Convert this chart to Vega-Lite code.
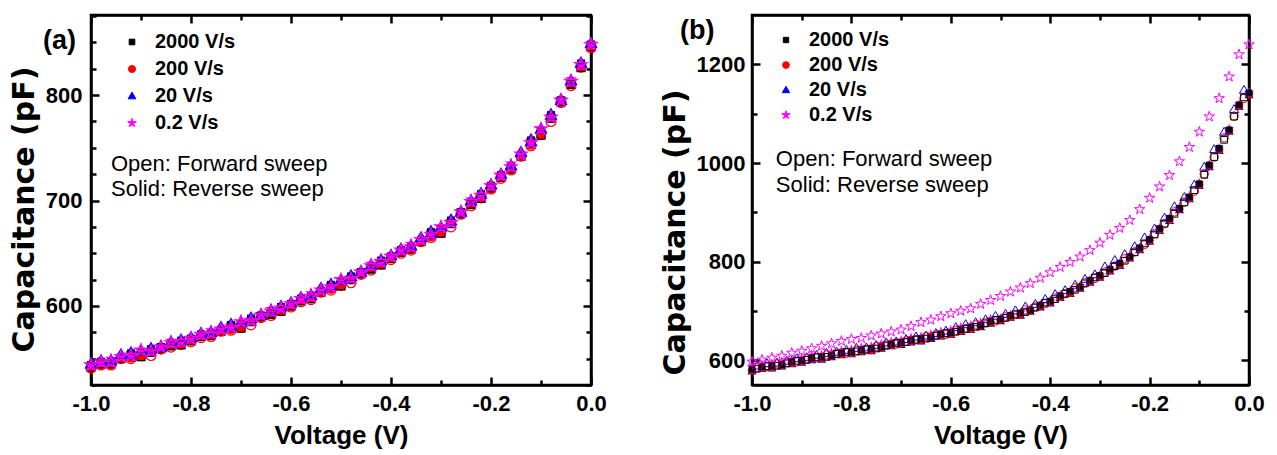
{
"$schema":"https://vega.github.io/schema/vega-lite/v6.json",
"background":"white",
"padding":{"left":8,"top":12,"right":10,"bottom":4},
"spacing":50,
"datasets":{
"aF":[
{"s":"2000","v":-1,"c":542},{"s":"2000","v":-0.98,"c":545},{"s":"2000","v":-0.96,"c":545},{"s":"2000","v":-0.94,"c":550},{"s":"2000","v":-0.92,"c":553},{"s":"2000","v":-0.9,"c":552},{"s":"2000","v":-0.88,"c":556},{"s":"2000","v":-0.86,"c":560},{"s":"2000","v":-0.84,"c":562},{"s":"2000","v":-0.82,"c":563},{"s":"2000","v":-0.8,"c":567},{"s":"2000","v":-0.78,"c":571},{"s":"2000","v":-0.76,"c":572},{"s":"2000","v":-0.74,"c":576},{"s":"2000","v":-0.72,"c":580},{"s":"2000","v":-0.7,"c":579},{"s":"2000","v":-0.68,"c":585},{"s":"2000","v":-0.66,"c":590},{"s":"2000","v":-0.64,"c":592},{"s":"2000","v":-0.62,"c":595},{"s":"2000","v":-0.6,"c":600},{"s":"2000","v":-0.58,"c":605},{"s":"2000","v":-0.56,"c":607},{"s":"2000","v":-0.54,"c":613},{"s":"2000","v":-0.52,"c":618},{"s":"2000","v":-0.5,"c":619},{"s":"2000","v":-0.48,"c":625},{"s":"2000","v":-0.46,"c":631},{"s":"2000","v":-0.44,"c":635},{"s":"2000","v":-0.42,"c":639},{"s":"2000","v":-0.4,"c":645},{"s":"2000","v":-0.38,"c":651},{"s":"2000","v":-0.36,"c":654},{"s":"2000","v":-0.34,"c":661},{"s":"2000","v":-0.32,"c":668},{"s":"2000","v":-0.3,"c":669},{"s":"2000","v":-0.28,"c":678},{"s":"2000","v":-0.26,"c":688},{"s":"2000","v":-0.24,"c":696},{"s":"2000","v":-0.22,"c":702},{"s":"2000","v":-0.2,"c":712},{"s":"2000","v":-0.18,"c":722},{"s":"2000","v":-0.16,"c":730},{"s":"2000","v":-0.14,"c":742},{"s":"2000","v":-0.12,"c":755},{"s":"2000","v":-0.1,"c":762},{"s":"2000","v":-0.08,"c":778},{"s":"2000","v":-0.06,"c":794},{"s":"2000","v":-0.04,"c":810},{"s":"2000","v":-0.02,"c":826},{"s":"2000","v":0,"c":846},
{"s":"200","v":-1,"c":541},{"s":"200","v":-0.98,"c":544},{"s":"200","v":-0.96,"c":544},{"s":"200","v":-0.94,"c":550},{"s":"200","v":-0.92,"c":550},{"s":"200","v":-0.9,"c":554},{"s":"200","v":-0.88,"c":553},{"s":"200","v":-0.86,"c":559},{"s":"200","v":-0.84,"c":561},{"s":"200","v":-0.82,"c":565},{"s":"200","v":-0.8,"c":566},{"s":"200","v":-0.78,"c":570},{"s":"200","v":-0.76,"c":571},{"s":"200","v":-0.74,"c":576},{"s":"200","v":-0.72,"c":577},{"s":"200","v":-0.7,"c":581},{"s":"200","v":-0.68,"c":582},{"s":"200","v":-0.66,"c":589},{"s":"200","v":-0.64,"c":591},{"s":"200","v":-0.62,"c":597},{"s":"200","v":-0.6,"c":599},{"s":"200","v":-0.58,"c":604},{"s":"200","v":-0.56,"c":606},{"s":"200","v":-0.54,"c":613},{"s":"200","v":-0.52,"c":615},{"s":"200","v":-0.5,"c":621},{"s":"200","v":-0.48,"c":622},{"s":"200","v":-0.46,"c":630},{"s":"200","v":-0.44,"c":634},{"s":"200","v":-0.42,"c":641},{"s":"200","v":-0.4,"c":644},{"s":"200","v":-0.38,"c":650},{"s":"200","v":-0.36,"c":653},{"s":"200","v":-0.34,"c":661},{"s":"200","v":-0.32,"c":665},{"s":"200","v":-0.3,"c":671},{"s":"200","v":-0.28,"c":675},{"s":"200","v":-0.26,"c":687},{"s":"200","v":-0.24,"c":695},{"s":"200","v":-0.22,"c":704},{"s":"200","v":-0.2,"c":711},{"s":"200","v":-0.18,"c":721},{"s":"200","v":-0.16,"c":729},{"s":"200","v":-0.14,"c":742},{"s":"200","v":-0.12,"c":752},{"s":"200","v":-0.1,"c":764},{"s":"200","v":-0.08,"c":775},{"s":"200","v":-0.06,"c":793},{"s":"200","v":-0.04,"c":809},{"s":"200","v":-0.02,"c":828},{"s":"200","v":0,"c":845},
{"s":"20","v":-1,"c":545},{"s":"20","v":-0.98,"c":548},{"s":"20","v":-0.96,"c":548},{"s":"20","v":-0.94,"c":554},{"s":"20","v":-0.92,"c":554},{"s":"20","v":-0.9,"c":558},{"s":"20","v":-0.88,"c":559},{"s":"20","v":-0.86,"c":561},{"s":"20","v":-0.84,"c":566},{"s":"20","v":-0.82,"c":567},{"s":"20","v":-0.8,"c":570},{"s":"20","v":-0.78,"c":574},{"s":"20","v":-0.76,"c":575},{"s":"20","v":-0.74,"c":580},{"s":"20","v":-0.72,"c":581},{"s":"20","v":-0.7,"c":585},{"s":"20","v":-0.68,"c":588},{"s":"20","v":-0.66,"c":591},{"s":"20","v":-0.64,"c":596},{"s":"20","v":-0.62,"c":599},{"s":"20","v":-0.6,"c":603},{"s":"20","v":-0.58,"c":608},{"s":"20","v":-0.56,"c":610},{"s":"20","v":-0.54,"c":617},{"s":"20","v":-0.52,"c":619},{"s":"20","v":-0.5,"c":625},{"s":"20","v":-0.48,"c":628},{"s":"20","v":-0.46,"c":632},{"s":"20","v":-0.44,"c":639},{"s":"20","v":-0.42,"c":643},{"s":"20","v":-0.4,"c":648},{"s":"20","v":-0.38,"c":654},{"s":"20","v":-0.36,"c":657},{"s":"20","v":-0.34,"c":665},{"s":"20","v":-0.32,"c":669},{"s":"20","v":-0.3,"c":675},{"s":"20","v":-0.28,"c":681},{"s":"20","v":-0.26,"c":689},{"s":"20","v":-0.24,"c":700},{"s":"20","v":-0.22,"c":706},{"s":"20","v":-0.2,"c":715},{"s":"20","v":-0.18,"c":725},{"s":"20","v":-0.16,"c":733},{"s":"20","v":-0.14,"c":746},{"s":"20","v":-0.12,"c":756},{"s":"20","v":-0.1,"c":768},{"s":"20","v":-0.08,"c":781},{"s":"20","v":-0.06,"c":795},{"s":"20","v":-0.04,"c":814},{"s":"20","v":-0.02,"c":830},{"s":"20","v":0,"c":849},
{"s":"0.2","v":-1,"c":544},{"s":"0.2","v":-0.98,"c":547},{"s":"0.2","v":-0.96,"c":547},{"s":"0.2","v":-0.94,"c":552},{"s":"0.2","v":-0.92,"c":553},{"s":"0.2","v":-0.9,"c":558},{"s":"0.2","v":-0.88,"c":557},{"s":"0.2","v":-0.86,"c":561},{"s":"0.2","v":-0.84,"c":565},{"s":"0.2","v":-0.82,"c":566},{"s":"0.2","v":-0.8,"c":569},{"s":"0.2","v":-0.78,"c":573},{"s":"0.2","v":-0.76,"c":574},{"s":"0.2","v":-0.74,"c":578},{"s":"0.2","v":-0.72,"c":580},{"s":"0.2","v":-0.7,"c":585},{"s":"0.2","v":-0.68,"c":586},{"s":"0.2","v":-0.66,"c":591},{"s":"0.2","v":-0.64,"c":595},{"s":"0.2","v":-0.62,"c":598},{"s":"0.2","v":-0.6,"c":602},{"s":"0.2","v":-0.58,"c":607},{"s":"0.2","v":-0.56,"c":609},{"s":"0.2","v":-0.54,"c":615},{"s":"0.2","v":-0.52,"c":618},{"s":"0.2","v":-0.5,"c":625},{"s":"0.2","v":-0.48,"c":626},{"s":"0.2","v":-0.46,"c":632},{"s":"0.2","v":-0.44,"c":638},{"s":"0.2","v":-0.42,"c":642},{"s":"0.2","v":-0.4,"c":647},{"s":"0.2","v":-0.38,"c":653},{"s":"0.2","v":-0.36,"c":656},{"s":"0.2","v":-0.34,"c":663},{"s":"0.2","v":-0.32,"c":668},{"s":"0.2","v":-0.3,"c":675},{"s":"0.2","v":-0.28,"c":679},{"s":"0.2","v":-0.26,"c":689},{"s":"0.2","v":-0.24,"c":699},{"s":"0.2","v":-0.22,"c":705},{"s":"0.2","v":-0.2,"c":714},{"s":"0.2","v":-0.18,"c":724},{"s":"0.2","v":-0.16,"c":732},{"s":"0.2","v":-0.14,"c":744},{"s":"0.2","v":-0.12,"c":755},{"s":"0.2","v":-0.1,"c":768},{"s":"0.2","v":-0.08,"c":779},{"s":"0.2","v":-0.06,"c":795},{"s":"0.2","v":-0.04,"c":813},{"s":"0.2","v":-0.02,"c":829},{"s":"0.2","v":0,"c":848}
],
"aR":[
{"s":"2000","v":-1,"c":544},{"s":"2000","v":-0.98,"c":547},{"s":"2000","v":-0.96,"c":547},{"s":"2000","v":-0.94,"c":551},{"s":"2000","v":-0.92,"c":555},{"s":"2000","v":-0.9,"c":555},{"s":"2000","v":-0.88,"c":559},{"s":"2000","v":-0.86,"c":561},{"s":"2000","v":-0.84,"c":562},{"s":"2000","v":-0.82,"c":567},{"s":"2000","v":-0.8,"c":569},{"s":"2000","v":-0.78,"c":573},{"s":"2000","v":-0.76,"c":574},{"s":"2000","v":-0.74,"c":577},{"s":"2000","v":-0.72,"c":582},{"s":"2000","v":-0.7,"c":582},{"s":"2000","v":-0.68,"c":588},{"s":"2000","v":-0.66,"c":591},{"s":"2000","v":-0.64,"c":592},{"s":"2000","v":-0.62,"c":599},{"s":"2000","v":-0.6,"c":602},{"s":"2000","v":-0.58,"c":607},{"s":"2000","v":-0.56,"c":609},{"s":"2000","v":-0.54,"c":614},{"s":"2000","v":-0.52,"c":620},{"s":"2000","v":-0.5,"c":622},{"s":"2000","v":-0.48,"c":628},{"s":"2000","v":-0.46,"c":632},{"s":"2000","v":-0.44,"c":635},{"s":"2000","v":-0.42,"c":643},{"s":"2000","v":-0.4,"c":647},{"s":"2000","v":-0.38,"c":653},{"s":"2000","v":-0.36,"c":656},{"s":"2000","v":-0.34,"c":662},{"s":"2000","v":-0.32,"c":670},{"s":"2000","v":-0.3,"c":672},{"s":"2000","v":-0.28,"c":681},{"s":"2000","v":-0.26,"c":689},{"s":"2000","v":-0.24,"c":696},{"s":"2000","v":-0.22,"c":706},{"s":"2000","v":-0.2,"c":714},{"s":"2000","v":-0.18,"c":724},{"s":"2000","v":-0.16,"c":732},{"s":"2000","v":-0.14,"c":743},{"s":"2000","v":-0.12,"c":757},{"s":"2000","v":-0.1,"c":765},{"s":"2000","v":-0.08,"c":781},{"s":"2000","v":-0.06,"c":795},{"s":"2000","v":-0.04,"c":810},{"s":"2000","v":-0.02,"c":830},{"s":"2000","v":0,"c":848},
{"s":"200","v":-1,"c":542},{"s":"200","v":-0.98,"c":545},{"s":"200","v":-0.96,"c":545},{"s":"200","v":-0.94,"c":551},{"s":"200","v":-0.92,"c":551},{"s":"200","v":-0.9,"c":552},{"s":"200","v":-0.88,"c":557},{"s":"200","v":-0.86,"c":559},{"s":"200","v":-0.84,"c":564},{"s":"200","v":-0.82,"c":563},{"s":"200","v":-0.8,"c":567},{"s":"200","v":-0.78,"c":571},{"s":"200","v":-0.76,"c":572},{"s":"200","v":-0.74,"c":577},{"s":"200","v":-0.72,"c":578},{"s":"200","v":-0.7,"c":579},{"s":"200","v":-0.68,"c":586},{"s":"200","v":-0.66,"c":589},{"s":"200","v":-0.64,"c":594},{"s":"200","v":-0.62,"c":595},{"s":"200","v":-0.6,"c":600},{"s":"200","v":-0.58,"c":605},{"s":"200","v":-0.56,"c":607},{"s":"200","v":-0.54,"c":614},{"s":"200","v":-0.52,"c":616},{"s":"200","v":-0.5,"c":619},{"s":"200","v":-0.48,"c":626},{"s":"200","v":-0.46,"c":630},{"s":"200","v":-0.44,"c":637},{"s":"200","v":-0.42,"c":639},{"s":"200","v":-0.4,"c":645},{"s":"200","v":-0.38,"c":651},{"s":"200","v":-0.36,"c":654},{"s":"200","v":-0.34,"c":662},{"s":"200","v":-0.32,"c":666},{"s":"200","v":-0.3,"c":669},{"s":"200","v":-0.28,"c":679},{"s":"200","v":-0.26,"c":687},{"s":"200","v":-0.24,"c":698},{"s":"200","v":-0.22,"c":702},{"s":"200","v":-0.2,"c":712},{"s":"200","v":-0.18,"c":722},{"s":"200","v":-0.16,"c":730},{"s":"200","v":-0.14,"c":743},{"s":"200","v":-0.12,"c":753},{"s":"200","v":-0.1,"c":762},{"s":"200","v":-0.08,"c":779},{"s":"200","v":-0.06,"c":793},{"s":"200","v":-0.04,"c":812},{"s":"200","v":-0.02,"c":826},{"s":"200","v":0,"c":846},
{"s":"20","v":-1,"c":546},{"s":"20","v":-0.98,"c":549},{"s":"20","v":-0.96,"c":549},{"s":"20","v":-0.94,"c":553},{"s":"20","v":-0.92,"c":557},{"s":"20","v":-0.9,"c":557},{"s":"20","v":-0.88,"c":561},{"s":"20","v":-0.86,"c":563},{"s":"20","v":-0.84,"c":565},{"s":"20","v":-0.82,"c":569},{"s":"20","v":-0.8,"c":571},{"s":"20","v":-0.78,"c":575},{"s":"20","v":-0.76,"c":576},{"s":"20","v":-0.74,"c":579},{"s":"20","v":-0.72,"c":584},{"s":"20","v":-0.7,"c":584},{"s":"20","v":-0.68,"c":590},{"s":"20","v":-0.66,"c":593},{"s":"20","v":-0.64,"c":595},{"s":"20","v":-0.62,"c":601},{"s":"20","v":-0.6,"c":604},{"s":"20","v":-0.58,"c":609},{"s":"20","v":-0.56,"c":611},{"s":"20","v":-0.54,"c":616},{"s":"20","v":-0.52,"c":622},{"s":"20","v":-0.5,"c":624},{"s":"20","v":-0.48,"c":630},{"s":"20","v":-0.46,"c":634},{"s":"20","v":-0.44,"c":638},{"s":"20","v":-0.42,"c":645},{"s":"20","v":-0.4,"c":649},{"s":"20","v":-0.38,"c":655},{"s":"20","v":-0.36,"c":658},{"s":"20","v":-0.34,"c":664},{"s":"20","v":-0.32,"c":672},{"s":"20","v":-0.3,"c":674},{"s":"20","v":-0.28,"c":683},{"s":"20","v":-0.26,"c":691},{"s":"20","v":-0.24,"c":699},{"s":"20","v":-0.22,"c":708},{"s":"20","v":-0.2,"c":716},{"s":"20","v":-0.18,"c":726},{"s":"20","v":-0.16,"c":734},{"s":"20","v":-0.14,"c":745},{"s":"20","v":-0.12,"c":759},{"s":"20","v":-0.1,"c":767},{"s":"20","v":-0.08,"c":783},{"s":"20","v":-0.06,"c":797},{"s":"20","v":-0.04,"c":813},{"s":"20","v":-0.02,"c":832},{"s":"20","v":0,"c":850},
{"s":"0.2","v":-1,"c":545},{"s":"0.2","v":-0.98,"c":546},{"s":"0.2","v":-0.96,"c":550},{"s":"0.2","v":-0.94,"c":552},{"s":"0.2","v":-0.92,"c":552},{"s":"0.2","v":-0.9,"c":558},{"s":"0.2","v":-0.88,"c":558},{"s":"0.2","v":-0.86,"c":562},{"s":"0.2","v":-0.84,"c":567},{"s":"0.2","v":-0.82,"c":566},{"s":"0.2","v":-0.8,"c":570},{"s":"0.2","v":-0.78,"c":572},{"s":"0.2","v":-0.76,"c":577},{"s":"0.2","v":-0.74,"c":578},{"s":"0.2","v":-0.72,"c":579},{"s":"0.2","v":-0.7,"c":585},{"s":"0.2","v":-0.68,"c":587},{"s":"0.2","v":-0.66,"c":592},{"s":"0.2","v":-0.64,"c":597},{"s":"0.2","v":-0.62,"c":598},{"s":"0.2","v":-0.6,"c":603},{"s":"0.2","v":-0.58,"c":606},{"s":"0.2","v":-0.56,"c":612},{"s":"0.2","v":-0.54,"c":615},{"s":"0.2","v":-0.52,"c":617},{"s":"0.2","v":-0.5,"c":625},{"s":"0.2","v":-0.48,"c":627},{"s":"0.2","v":-0.46,"c":633},{"s":"0.2","v":-0.44,"c":640},{"s":"0.2","v":-0.42,"c":642},{"s":"0.2","v":-0.4,"c":648},{"s":"0.2","v":-0.38,"c":652},{"s":"0.2","v":-0.36,"c":659},{"s":"0.2","v":-0.34,"c":663},{"s":"0.2","v":-0.32,"c":667},{"s":"0.2","v":-0.3,"c":675},{"s":"0.2","v":-0.28,"c":680},{"s":"0.2","v":-0.26,"c":690},{"s":"0.2","v":-0.24,"c":701},{"s":"0.2","v":-0.22,"c":705},{"s":"0.2","v":-0.2,"c":715},{"s":"0.2","v":-0.18,"c":723},{"s":"0.2","v":-0.16,"c":735},{"s":"0.2","v":-0.14,"c":744},{"s":"0.2","v":-0.12,"c":754},{"s":"0.2","v":-0.1,"c":768},{"s":"0.2","v":-0.08,"c":780},{"s":"0.2","v":-0.06,"c":796},{"s":"0.2","v":-0.04,"c":815},{"s":"0.2","v":-0.02,"c":829},{"s":"0.2","v":0,"c":849}
],
"bF":[
{"s":"20","v":-0.99,"c":589},{"s":"20","v":-0.97,"c":594},{"s":"20","v":-0.95,"c":595},{"s":"20","v":-0.93,"c":599},{"s":"20","v":-0.91,"c":604},{"s":"20","v":-0.89,"c":606},{"s":"20","v":-0.87,"c":611},{"s":"20","v":-0.85,"c":615},{"s":"20","v":-0.83,"c":617},{"s":"20","v":-0.81,"c":621},{"s":"20","v":-0.79,"c":625},{"s":"20","v":-0.77,"c":626},{"s":"20","v":-0.75,"c":631},{"s":"20","v":-0.73,"c":636},{"s":"20","v":-0.71,"c":638},{"s":"20","v":-0.69,"c":643},{"s":"20","v":-0.67,"c":648},{"s":"20","v":-0.65,"c":650},{"s":"20","v":-0.63,"c":655},{"s":"20","v":-0.61,"c":660},{"s":"20","v":-0.59,"c":667},{"s":"20","v":-0.57,"c":673},{"s":"20","v":-0.55,"c":677},{"s":"20","v":-0.53,"c":683},{"s":"20","v":-0.51,"c":690},{"s":"20","v":-0.49,"c":694},{"s":"20","v":-0.47,"c":701},{"s":"20","v":-0.45,"c":709},{"s":"20","v":-0.43,"c":714},{"s":"20","v":-0.41,"c":724},{"s":"20","v":-0.39,"c":734},{"s":"20","v":-0.37,"c":742},{"s":"20","v":-0.35,"c":753},{"s":"20","v":-0.33,"c":765},{"s":"20","v":-0.31,"c":774},{"s":"20","v":-0.29,"c":790},{"s":"20","v":-0.27,"c":803},{"s":"20","v":-0.25,"c":815},{"s":"20","v":-0.23,"c":831},{"s":"20","v":-0.21,"c":849},{"s":"20","v":-0.19,"c":867},{"s":"20","v":-0.17,"c":889},{"s":"20","v":-0.15,"c":912},{"s":"20","v":-0.13,"c":931},{"s":"20","v":-0.11,"c":956},{"s":"20","v":-0.09,"c":992},{"s":"20","v":-0.07,"c":1028},{"s":"20","v":-0.05,"c":1063},{"s":"20","v":-0.03,"c":1109},{"s":"20","v":-0.01,"c":1148},
{"s":"200","v":-0.99,"c":585},{"s":"200","v":-0.97,"c":588},{"s":"200","v":-0.95,"c":593},{"s":"200","v":-0.93,"c":595},{"s":"200","v":-0.91,"c":597},{"s":"200","v":-0.89,"c":603},{"s":"200","v":-0.87,"c":606},{"s":"200","v":-0.85,"c":611},{"s":"200","v":-0.83,"c":614},{"s":"200","v":-0.81,"c":615},{"s":"200","v":-0.79,"c":620},{"s":"200","v":-0.77,"c":622},{"s":"200","v":-0.75,"c":628},{"s":"200","v":-0.73,"c":631},{"s":"200","v":-0.71,"c":633},{"s":"200","v":-0.69,"c":639},{"s":"200","v":-0.67,"c":642},{"s":"200","v":-0.65,"c":648},{"s":"200","v":-0.63,"c":651},{"s":"200","v":-0.61,"c":653},{"s":"200","v":-0.59,"c":660},{"s":"200","v":-0.57,"c":664},{"s":"200","v":-0.55,"c":672},{"s":"200","v":-0.53,"c":676},{"s":"200","v":-0.51,"c":680},{"s":"200","v":-0.49,"c":688},{"s":"200","v":-0.47,"c":693},{"s":"200","v":-0.45,"c":702},{"s":"200","v":-0.43,"c":708},{"s":"200","v":-0.41,"c":715},{"s":"200","v":-0.39,"c":726},{"s":"200","v":-0.37,"c":735},{"s":"200","v":-0.35,"c":747},{"s":"200","v":-0.33,"c":757},{"s":"200","v":-0.31,"c":766},{"s":"200","v":-0.29,"c":779},{"s":"200","v":-0.27,"c":791},{"s":"200","v":-0.25,"c":806},{"s":"200","v":-0.23,"c":820},{"s":"200","v":-0.21,"c":835},{"s":"200","v":-0.19,"c":857},{"s":"200","v":-0.17,"c":877},{"s":"200","v":-0.15,"c":901},{"s":"200","v":-0.13,"c":921},{"s":"200","v":-0.11,"c":943},{"s":"200","v":-0.09,"c":978},{"s":"200","v":-0.07,"c":1012},{"s":"200","v":-0.05,"c":1051},{"s":"200","v":-0.03,"c":1095},{"s":"200","v":-0.01,"c":1131},
{"s":"2000","v":-0.99,"c":583},{"s":"2000","v":-0.97,"c":588},{"s":"2000","v":-0.95,"c":589},{"s":"2000","v":-0.93,"c":594},{"s":"2000","v":-0.91,"c":599},{"s":"2000","v":-0.89,"c":601},{"s":"2000","v":-0.87,"c":606},{"s":"2000","v":-0.85,"c":607},{"s":"2000","v":-0.83,"c":613},{"s":"2000","v":-0.81,"c":617},{"s":"2000","v":-0.79,"c":618},{"s":"2000","v":-0.77,"c":622},{"s":"2000","v":-0.75,"c":624},{"s":"2000","v":-0.73,"c":630},{"s":"2000","v":-0.71,"c":635},{"s":"2000","v":-0.69,"c":637},{"s":"2000","v":-0.67,"c":642},{"s":"2000","v":-0.65,"c":644},{"s":"2000","v":-0.63,"c":650},{"s":"2000","v":-0.61,"c":655},{"s":"2000","v":-0.59,"c":658},{"s":"2000","v":-0.57,"c":664},{"s":"2000","v":-0.55,"c":668},{"s":"2000","v":-0.53,"c":675},{"s":"2000","v":-0.51,"c":682},{"s":"2000","v":-0.49,"c":686},{"s":"2000","v":-0.47,"c":693},{"s":"2000","v":-0.45,"c":698},{"s":"2000","v":-0.43,"c":707},{"s":"2000","v":-0.41,"c":717},{"s":"2000","v":-0.39,"c":724},{"s":"2000","v":-0.37,"c":735},{"s":"2000","v":-0.35,"c":743},{"s":"2000","v":-0.33,"c":756},{"s":"2000","v":-0.31,"c":768},{"s":"2000","v":-0.29,"c":777},{"s":"2000","v":-0.27,"c":791},{"s":"2000","v":-0.25,"c":802},{"s":"2000","v":-0.23,"c":819},{"s":"2000","v":-0.21,"c":837},{"s":"2000","v":-0.19,"c":855},{"s":"2000","v":-0.17,"c":877},{"s":"2000","v":-0.15,"c":897},{"s":"2000","v":-0.13,"c":920},{"s":"2000","v":-0.11,"c":945},{"s":"2000","v":-0.09,"c":976},{"s":"2000","v":-0.07,"c":1012},{"s":"2000","v":-0.05,"c":1047},{"s":"2000","v":-0.03,"c":1094},{"s":"2000","v":-0.01,"c":1133},
{"s":"0.2","v":-1,"c":597},{"s":"0.2","v":-0.98,"c":601},{"s":"0.2","v":-0.96,"c":605},{"s":"0.2","v":-0.94,"c":609},{"s":"0.2","v":-0.92,"c":615},{"s":"0.2","v":-0.9,"c":619},{"s":"0.2","v":-0.88,"c":624},{"s":"0.2","v":-0.86,"c":629},{"s":"0.2","v":-0.84,"c":634},{"s":"0.2","v":-0.82,"c":639},{"s":"0.2","v":-0.8,"c":643},{"s":"0.2","v":-0.78,"c":645},{"s":"0.2","v":-0.76,"c":650},{"s":"0.2","v":-0.74,"c":654},{"s":"0.2","v":-0.72,"c":658},{"s":"0.2","v":-0.7,"c":662},{"s":"0.2","v":-0.68,"c":669},{"s":"0.2","v":-0.66,"c":677},{"s":"0.2","v":-0.64,"c":682},{"s":"0.2","v":-0.62,"c":689},{"s":"0.2","v":-0.6,"c":695},{"s":"0.2","v":-0.58,"c":700},{"s":"0.2","v":-0.56,"c":705},{"s":"0.2","v":-0.54,"c":714},{"s":"0.2","v":-0.52,"c":722},{"s":"0.2","v":-0.5,"c":730},{"s":"0.2","v":-0.48,"c":739},{"s":"0.2","v":-0.46,"c":747},{"s":"0.2","v":-0.44,"c":756},{"s":"0.2","v":-0.42,"c":767},{"s":"0.2","v":-0.4,"c":778},{"s":"0.2","v":-0.38,"c":789},{"s":"0.2","v":-0.36,"c":799},{"s":"0.2","v":-0.34,"c":810},{"s":"0.2","v":-0.32,"c":823},{"s":"0.2","v":-0.3,"c":838},{"s":"0.2","v":-0.28,"c":854},{"s":"0.2","v":-0.26,"c":868},{"s":"0.2","v":-0.24,"c":884},{"s":"0.2","v":-0.22,"c":906},{"s":"0.2","v":-0.2,"c":929},{"s":"0.2","v":-0.18,"c":952},{"s":"0.2","v":-0.16,"c":975},{"s":"0.2","v":-0.14,"c":1003},{"s":"0.2","v":-0.12,"c":1032},{"s":"0.2","v":-0.1,"c":1063},{"s":"0.2","v":-0.08,"c":1094},{"s":"0.2","v":-0.06,"c":1131},{"s":"0.2","v":-0.04,"c":1175},{"s":"0.2","v":-0.02,"c":1220},{"s":"0.2","v":0,"c":1240}
],
"bR":[
{"s":"0.2","v":-1,"c":587},{"s":"0.2","v":-0.98,"c":592},{"s":"0.2","v":-0.96,"c":593},{"s":"0.2","v":-0.94,"c":597},{"s":"0.2","v":-0.92,"c":602},{"s":"0.2","v":-0.9,"c":605},{"s":"0.2","v":-0.88,"c":610},{"s":"0.2","v":-0.86,"c":611},{"s":"0.2","v":-0.84,"c":616},{"s":"0.2","v":-0.82,"c":620},{"s":"0.2","v":-0.8,"c":622},{"s":"0.2","v":-0.78,"c":626},{"s":"0.2","v":-0.76,"c":628},{"s":"0.2","v":-0.74,"c":633},{"s":"0.2","v":-0.72,"c":638},{"s":"0.2","v":-0.7,"c":641},{"s":"0.2","v":-0.68,"c":646},{"s":"0.2","v":-0.66,"c":648},{"s":"0.2","v":-0.64,"c":653},{"s":"0.2","v":-0.62,"c":658},{"s":"0.2","v":-0.6,"c":661},{"s":"0.2","v":-0.58,"c":667},{"s":"0.2","v":-0.56,"c":671},{"s":"0.2","v":-0.54,"c":677},{"s":"0.2","v":-0.52,"c":684},{"s":"0.2","v":-0.5,"c":685},{"s":"0.2","v":-0.48,"c":692},{"s":"0.2","v":-0.46,"c":696},{"s":"0.2","v":-0.44,"c":704},{"s":"0.2","v":-0.42,"c":713},{"s":"0.2","v":-0.4,"c":721},{"s":"0.2","v":-0.38,"c":732},{"s":"0.2","v":-0.36,"c":740},{"s":"0.2","v":-0.34,"c":751},{"s":"0.2","v":-0.32,"c":763},{"s":"0.2","v":-0.3,"c":773},{"s":"0.2","v":-0.28,"c":786},{"s":"0.2","v":-0.26,"c":797},{"s":"0.2","v":-0.24,"c":812},{"s":"0.2","v":-0.22,"c":829},{"s":"0.2","v":-0.2,"c":846},{"s":"0.2","v":-0.18,"c":868},{"s":"0.2","v":-0.16,"c":888},{"s":"0.2","v":-0.14,"c":910},{"s":"0.2","v":-0.12,"c":932},{"s":"0.2","v":-0.1,"c":959},{"s":"0.2","v":-0.08,"c":997},{"s":"0.2","v":-0.06,"c":1030},{"s":"0.2","v":-0.04,"c":1069},{"s":"0.2","v":-0.02,"c":1119},{"s":"0.2","v":0,"c":1143},
{"s":"20","v":-1,"c":578},{"s":"20","v":-0.98,"c":583},{"s":"20","v":-0.96,"c":584},{"s":"20","v":-0.94,"c":588},{"s":"20","v":-0.92,"c":593},{"s":"20","v":-0.9,"c":596},{"s":"20","v":-0.88,"c":601},{"s":"20","v":-0.86,"c":602},{"s":"20","v":-0.84,"c":607},{"s":"20","v":-0.82,"c":611},{"s":"20","v":-0.8,"c":613},{"s":"20","v":-0.78,"c":617},{"s":"20","v":-0.76,"c":619},{"s":"20","v":-0.74,"c":624},{"s":"20","v":-0.72,"c":629},{"s":"20","v":-0.7,"c":632},{"s":"20","v":-0.68,"c":637},{"s":"20","v":-0.66,"c":639},{"s":"20","v":-0.64,"c":644},{"s":"20","v":-0.62,"c":649},{"s":"20","v":-0.6,"c":652},{"s":"20","v":-0.58,"c":658},{"s":"20","v":-0.56,"c":662},{"s":"20","v":-0.54,"c":668},{"s":"20","v":-0.52,"c":675},{"s":"20","v":-0.5,"c":680},{"s":"20","v":-0.48,"c":687},{"s":"20","v":-0.46,"c":691},{"s":"20","v":-0.44,"c":699},{"s":"20","v":-0.42,"c":708},{"s":"20","v":-0.4,"c":716},{"s":"20","v":-0.38,"c":727},{"s":"20","v":-0.36,"c":735},{"s":"20","v":-0.34,"c":746},{"s":"20","v":-0.32,"c":758},{"s":"20","v":-0.3,"c":768},{"s":"20","v":-0.28,"c":781},{"s":"20","v":-0.26,"c":792},{"s":"20","v":-0.24,"c":807},{"s":"20","v":-0.22,"c":824},{"s":"20","v":-0.2,"c":841},{"s":"20","v":-0.18,"c":863},{"s":"20","v":-0.16,"c":883},{"s":"20","v":-0.14,"c":905},{"s":"20","v":-0.12,"c":927},{"s":"20","v":-0.1,"c":954},{"s":"20","v":-0.08,"c":992},{"s":"20","v":-0.06,"c":1025},{"s":"20","v":-0.04,"c":1064},{"s":"20","v":-0.02,"c":1114},{"s":"20","v":0,"c":1138},
{"s":"200","v":-1,"c":580},{"s":"200","v":-0.98,"c":585},{"s":"200","v":-0.96,"c":586},{"s":"200","v":-0.94,"c":590},{"s":"200","v":-0.92,"c":595},{"s":"200","v":-0.9,"c":598},{"s":"200","v":-0.88,"c":603},{"s":"200","v":-0.86,"c":604},{"s":"200","v":-0.84,"c":609},{"s":"200","v":-0.82,"c":613},{"s":"200","v":-0.8,"c":615},{"s":"200","v":-0.78,"c":619},{"s":"200","v":-0.76,"c":621},{"s":"200","v":-0.74,"c":626},{"s":"200","v":-0.72,"c":631},{"s":"200","v":-0.7,"c":634},{"s":"200","v":-0.68,"c":639},{"s":"200","v":-0.66,"c":641},{"s":"200","v":-0.64,"c":646},{"s":"200","v":-0.62,"c":651},{"s":"200","v":-0.6,"c":654},{"s":"200","v":-0.58,"c":660},{"s":"200","v":-0.56,"c":664},{"s":"200","v":-0.54,"c":670},{"s":"200","v":-0.52,"c":677},{"s":"200","v":-0.5,"c":682},{"s":"200","v":-0.48,"c":689},{"s":"200","v":-0.46,"c":693},{"s":"200","v":-0.44,"c":701},{"s":"200","v":-0.42,"c":710},{"s":"200","v":-0.4,"c":718},{"s":"200","v":-0.38,"c":729},{"s":"200","v":-0.36,"c":737},{"s":"200","v":-0.34,"c":748},{"s":"200","v":-0.32,"c":760},{"s":"200","v":-0.3,"c":770},{"s":"200","v":-0.28,"c":783},{"s":"200","v":-0.26,"c":794},{"s":"200","v":-0.24,"c":809},{"s":"200","v":-0.22,"c":826},{"s":"200","v":-0.2,"c":843},{"s":"200","v":-0.18,"c":865},{"s":"200","v":-0.16,"c":885},{"s":"200","v":-0.14,"c":907},{"s":"200","v":-0.12,"c":929},{"s":"200","v":-0.1,"c":956},{"s":"200","v":-0.08,"c":994},{"s":"200","v":-0.06,"c":1027},{"s":"200","v":-0.04,"c":1066},{"s":"200","v":-0.02,"c":1116},{"s":"200","v":0,"c":1140},
{"s":"2000","v":-1,"c":582},{"s":"2000","v":-0.98,"c":587},{"s":"2000","v":-0.96,"c":589},{"s":"2000","v":-0.94,"c":591},{"s":"2000","v":-0.92,"c":597},{"s":"2000","v":-0.9,"c":600},{"s":"2000","v":-0.88,"c":605},{"s":"2000","v":-0.86,"c":607},{"s":"2000","v":-0.84,"c":610},{"s":"2000","v":-0.82,"c":615},{"s":"2000","v":-0.8,"c":617},{"s":"2000","v":-0.78,"c":621},{"s":"2000","v":-0.76,"c":624},{"s":"2000","v":-0.74,"c":627},{"s":"2000","v":-0.72,"c":633},{"s":"2000","v":-0.7,"c":636},{"s":"2000","v":-0.68,"c":641},{"s":"2000","v":-0.66,"c":644},{"s":"2000","v":-0.64,"c":647},{"s":"2000","v":-0.62,"c":653},{"s":"2000","v":-0.6,"c":656},{"s":"2000","v":-0.58,"c":662},{"s":"2000","v":-0.56,"c":667},{"s":"2000","v":-0.54,"c":671},{"s":"2000","v":-0.52,"c":679},{"s":"2000","v":-0.5,"c":684},{"s":"2000","v":-0.48,"c":691},{"s":"2000","v":-0.46,"c":696},{"s":"2000","v":-0.44,"c":702},{"s":"2000","v":-0.42,"c":712},{"s":"2000","v":-0.4,"c":720},{"s":"2000","v":-0.38,"c":731},{"s":"2000","v":-0.36,"c":740},{"s":"2000","v":-0.34,"c":749},{"s":"2000","v":-0.32,"c":762},{"s":"2000","v":-0.3,"c":772},{"s":"2000","v":-0.28,"c":785},{"s":"2000","v":-0.26,"c":797},{"s":"2000","v":-0.24,"c":810},{"s":"2000","v":-0.22,"c":828},{"s":"2000","v":-0.2,"c":845},{"s":"2000","v":-0.18,"c":867},{"s":"2000","v":-0.16,"c":888},{"s":"2000","v":-0.14,"c":908},{"s":"2000","v":-0.12,"c":931},{"s":"2000","v":-0.1,"c":958},{"s":"2000","v":-0.08,"c":996},{"s":"2000","v":-0.06,"c":1030},{"s":"2000","v":-0.04,"c":1067},{"s":"2000","v":-0.02,"c":1118},{"s":"2000","v":0,"c":1142}
]
},
"hconcat":[
{
"width":500,"height":370,
"resolve":{"axis":{"x":"independent","y":"independent"}},
"layer":[
{"data":{"name":"aR"},"mark":{"type":"point","filled":true,"opacity":1,"size":100},
"encoding":{
"x":{"field":"v","type":"quantitative","scale":{"domain":[-1,0],"nice":false,"zero":false},
"axis":{"orient":"bottom","values":[-1,-0.8,-0.6,-0.4,-0.2,0],"title":"Voltage (V)","labelExpr":"datum.value < 0 ? '-' + format(-datum.value, '.1f') : format(datum.value, '.1f')","tickSize":-8,"labelPadding":16,"titlePadding":8}},
"y":{"field":"c","type":"quantitative","scale":{"domain":[525,876],"nice":false,"zero":false},
"axis":{"orient":"left","values":[600,700,800],"format":"d","tickSize":-8,"labelPadding":17,"title":"Capacitance (pF)","titleFont":"DejaVu Sans","titleFontSize":30,"titlePadding":6,"titleY":194}},
"color":{"field":"s","type":"nominal","scale":{"domain":["2000","200","20","0.2"],"range":["#000000","#ff0000","#0000ff","#ff00ff"]},"legend":{"title":null,"orient":"none","direction":"vertical","legendX":31,"legendY":17,"labelExpr":"datum.label + ' V/s'","rowPadding":7,"symbolSize":50,"labelOffset":13}},
"shape":{"field":"s","type":"nominal","scale":{"domain":["2000","200","20","0.2"],"range":["M-0.8,-0.8L0.8,-0.8L0.8,0.8L-0.8,0.8Z","circle","M0,-1.1L1.1,0.8L-1.1,0.8Z","M0,-1.3L0.293,-0.402L1.236,-0.402L0.472,0.153L0.764,1.052L0,0.497L-0.764,1.052L-0.472,0.153L-1.236,-0.402L-0.293,-0.402Z"]},"legend":{"title":null,"orient":"none","direction":"vertical","legendX":31,"legendY":17,"labelExpr":"datum.label + ' V/s'","rowPadding":7,"symbolSize":50,"labelOffset":13}}
}},
{"data":{"name":"aF"},"mark":{"type":"point","filled":false,"opacity":1,"strokeWidth":1.2,"size":100},
"encoding":{
"x":{"field":"v","type":"quantitative","scale":{"domain":[-1,0],"nice":false,"zero":false},
"axis":{"orient":"top","values":[-1,-0.8,-0.6,-0.4,-0.2,0],"labels":false,"title":null,"tickSize":-8}},
"y":{"field":"c","type":"quantitative","scale":{"domain":[525,876],"nice":false,"zero":false},
"axis":{"orient":"right","values":[600,700,800],"labels":false,"title":null,"tickSize":-8}},
"color":{"field":"s","type":"nominal","scale":{"domain":["2000","200","20","0.2"],"range":["#000000","#ff0000","#0000ff","#ff00ff"]},"legend":{"title":null,"orient":"none","direction":"vertical","legendX":31,"legendY":17,"labelExpr":"datum.label + ' V/s'","rowPadding":7,"symbolSize":50,"labelOffset":13}},
"shape":{"field":"s","type":"nominal","scale":{"domain":["2000","200","20","0.2"],"range":["M-0.8,-0.8L0.8,-0.8L0.8,0.8L-0.8,0.8Z","circle","M0,-1.1L1.1,0.8L-1.1,0.8Z","M0,-1.3L0.293,-0.402L1.236,-0.402L0.472,0.153L0.764,1.052L0,0.497L-0.764,1.052L-0.472,0.153L-1.236,-0.402L-0.293,-0.402Z"]},"legend":{"title":null,"orient":"none","direction":"vertical","legendX":31,"legendY":17,"labelExpr":"datum.label + ' V/s'","rowPadding":7,"symbolSize":50,"labelOffset":13}}
}},
{"data":{"values":[{}]},"mark":{"type":"point","opacity":0},
"encoding":{
"x":{"datum":-0.5,"type":"quantitative","scale":{"domain":[-1,0],"nice":false,"zero":false},"axis":{"orient":"bottom","values":[-0.9,-0.7,-0.5,-0.3,-0.1],"labels":false,"title":null,"domain":false,"tickSize":-5}},
"y":{"datum":700,"type":"quantitative","scale":{"domain":[525,876],"nice":false,"zero":false},"axis":{"orient":"left","values":[525,550,575,625,650,675,725,750,775,825,850,875],"labels":false,"title":null,"domain":false,"tickSize":-5}}}},
{"data":{"values":[{}]},"mark":{"type":"point","opacity":0},
"encoding":{
"x":{"datum":-0.5,"type":"quantitative","scale":{"domain":[-1,0],"nice":false,"zero":false},"axis":{"orient":"top","values":[-0.9,-0.7,-0.5,-0.3,-0.1],"labels":false,"title":null,"domain":false,"tickSize":-5}},
"y":{"datum":700,"type":"quantitative","scale":{"domain":[525,876],"nice":false,"zero":false},"axis":{"orient":"right","values":[525,550,575,625,650,675,725,750,775,825,850,875],"labels":false,"title":null,"domain":false,"tickSize":-5}}}},
{"data":{"values":[{}]},"mark":{"type":"text","text":"(a)","align":"left","baseline":"alphabetic","font":"Liberation Sans","fontWeight":"bold","fontSize":27,"color":"black"},
"encoding":{"x":{"datum":-1.096,"type":"quantitative","scale":{"domain":[-1,0],"nice":false,"zero":false},"axis":null},"y":{"datum":843.5,"type":"quantitative","scale":{"domain":[525,876],"nice":false,"zero":false},"axis":null}}},
{"data":{"values":[{}]},"mark":{"type":"text","text":"Open: Forward sweep","align":"left","baseline":"alphabetic","font":"Liberation Sans","fontSize":22,"color":"black"},
"encoding":{"x":{"datum":-0.96,"type":"quantitative","scale":{"domain":[-1,0],"nice":false,"zero":false},"axis":null},"y":{"datum":728,"type":"quantitative","scale":{"domain":[525,876],"nice":false,"zero":false},"axis":null}}},
{"data":{"values":[{}]},"mark":{"type":"text","text":"Solid: Reverse sweep","align":"left","baseline":"alphabetic","font":"Liberation Sans","fontSize":22,"color":"black"},
"encoding":{"x":{"datum":-0.96,"type":"quantitative","scale":{"domain":[-1,0],"nice":false,"zero":false},"axis":null},"y":{"datum":704.5,"type":"quantitative","scale":{"domain":[525,876],"nice":false,"zero":false},"axis":null}}}
]
},
{
"width":497,"height":370,
"resolve":{"axis":{"x":"independent","y":"independent"}},
"layer":[
{"data":{"name":"bR"},"mark":{"type":"point","filled":true,"opacity":1,"size":70},
"encoding":{
"x":{"field":"v","type":"quantitative","scale":{"domain":[-1,0],"nice":false,"zero":false},
"axis":{"orient":"bottom","values":[-1,-0.8,-0.6,-0.4,-0.2,0],"title":"Voltage (V)","labelExpr":"datum.value < 0 ? '-' + format(-datum.value, '.1f') : format(datum.value, '.1f')","tickSize":-8,"labelPadding":16,"titlePadding":8}},
"y":{"field":"c","type":"quantitative","scale":{"domain":[550,1300],"nice":false,"zero":false},
"axis":{"orient":"left","values":[600,800,1000,1200],"format":"d","tickSize":-8,"labelPadding":15,"title":"Capacitance (pF)","titleFont":"DejaVu Sans","titleFontSize":30,"titlePadding":6,"titleY":217}},
"color":{"field":"s","type":"nominal","scale":{"domain":["2000","200","20","0.2"],"range":["#000000","#ff0000","#0000ff","#ff00ff"]},"legend":{"title":null,"orient":"none","direction":"vertical","legendX":24,"legendY":15,"labelExpr":"datum.label + ' V/s'","rowPadding":5,"symbolSize":45,"labelOffset":13}},
"shape":{"field":"s","type":"nominal","scale":{"domain":["2000","200","20","0.2"],"range":["M-0.8,-0.8L0.8,-0.8L0.8,0.8L-0.8,0.8Z","circle","M0,-1.1L1.1,0.8L-1.1,0.8Z","M0,-1.3L0.293,-0.402L1.236,-0.402L0.472,0.153L0.764,1.052L0,0.497L-0.764,1.052L-0.472,0.153L-1.236,-0.402L-0.293,-0.402Z"]},"legend":{"title":null,"orient":"none","direction":"vertical","legendX":24,"legendY":15,"labelExpr":"datum.label + ' V/s'","rowPadding":5,"symbolSize":45,"labelOffset":13}}
}},
{"data":{"name":"bF"},"mark":{"type":"point","filled":false,"opacity":1,"strokeWidth":1,"size":70},
"encoding":{
"x":{"field":"v","type":"quantitative","scale":{"domain":[-1,0],"nice":false,"zero":false},
"axis":{"orient":"top","values":[-1,-0.8,-0.6,-0.4,-0.2,0],"labels":false,"title":null,"tickSize":-8}},
"y":{"field":"c","type":"quantitative","scale":{"domain":[550,1300],"nice":false,"zero":false},
"axis":{"orient":"right","values":[600,800,1000,1200],"labels":false,"title":null,"tickSize":-8}},
"color":{"field":"s","type":"nominal","scale":{"domain":["2000","200","20","0.2"],"range":["#000000","#ff0000","#0000ff","#ff00ff"]},"legend":{"title":null,"orient":"none","direction":"vertical","legendX":24,"legendY":15,"labelExpr":"datum.label + ' V/s'","rowPadding":5,"symbolSize":45,"labelOffset":13}},
"shape":{"field":"s","type":"nominal","scale":{"domain":["2000","200","20","0.2"],"range":["M-0.8,-0.8L0.8,-0.8L0.8,0.8L-0.8,0.8Z","circle","M0,-1.1L1.1,0.8L-1.1,0.8Z","M0,-1.3L0.293,-0.402L1.236,-0.402L0.472,0.153L0.764,1.052L0,0.497L-0.764,1.052L-0.472,0.153L-1.236,-0.402L-0.293,-0.402Z"]},"legend":{"title":null,"orient":"none","direction":"vertical","legendX":24,"legendY":15,"labelExpr":"datum.label + ' V/s'","rowPadding":5,"symbolSize":45,"labelOffset":13}}
}},
{"data":{"values":[{}]},"mark":{"type":"point","opacity":0},
"encoding":{
"x":{"datum":-0.5,"type":"quantitative","scale":{"domain":[-1,0],"nice":false,"zero":false},"axis":{"orient":"bottom","values":[-0.9,-0.7,-0.5,-0.3,-0.1],"labels":false,"title":null,"domain":false,"tickSize":-5}},
"y":{"datum":800,"type":"quantitative","scale":{"domain":[550,1300],"nice":false,"zero":false},"axis":{"orient":"left","values":[700,900,1100],"labels":false,"title":null,"domain":false,"tickSize":-5}}}},
{"data":{"values":[{}]},"mark":{"type":"point","opacity":0},
"encoding":{
"x":{"datum":-0.5,"type":"quantitative","scale":{"domain":[-1,0],"nice":false,"zero":false},"axis":{"orient":"top","values":[-0.9,-0.7,-0.5,-0.3,-0.1],"labels":false,"title":null,"domain":false,"tickSize":-5}},
"y":{"datum":800,"type":"quantitative","scale":{"domain":[550,1300],"nice":false,"zero":false},"axis":{"orient":"right","values":[700,900,1100],"labels":false,"title":null,"domain":false,"tickSize":-5}}}},
{"data":{"values":[{}]},"mark":{"type":"text","text":"(b)","align":"left","baseline":"alphabetic","font":"Liberation Sans","fontWeight":"bold","fontSize":27,"color":"black"},
"encoding":{"x":{"datum":-1.145,"type":"quantitative","scale":{"domain":[-1,0],"nice":false,"zero":false},"axis":null},"y":{"datum":1252,"type":"quantitative","scale":{"domain":[550,1300],"nice":false,"zero":false},"axis":null}}},
{"data":{"values":[{}]},"mark":{"type":"text","text":"Open: Forward sweep","align":"left","baseline":"alphabetic","font":"Liberation Sans","fontSize":22,"color":"black"},
"encoding":{"x":{"datum":-0.952,"type":"quantitative","scale":{"domain":[-1,0],"nice":false,"zero":false},"axis":null},"y":{"datum":993,"type":"quantitative","scale":{"domain":[550,1300],"nice":false,"zero":false},"axis":null}}},
{"data":{"values":[{}]},"mark":{"type":"text","text":"Solid: Reverse sweep","align":"left","baseline":"alphabetic","font":"Liberation Sans","fontSize":22,"color":"black"},
"encoding":{"x":{"datum":-0.952,"type":"quantitative","scale":{"domain":[-1,0],"nice":false,"zero":false},"axis":null},"y":{"datum":942,"type":"quantitative","scale":{"domain":[550,1300],"nice":false,"zero":false},"axis":null}}}
]
}
],
"resolve":{"scale":{"color":"independent","shape":"independent"},"legend":{"color":"independent","shape":"independent"}},
"config":{
"view":{"stroke":"black","strokeWidth":2.5},
"axis":{"domainColor":"black","domainWidth":2.5,"tickColor":"black","tickWidth":2.5,"grid":false,"labelFont":"Liberation Sans","labelFontWeight":"bold","labelFontSize":22,"labelColor":"black","labelFlush":false,"labelOverlap":false,"titleColor":"black","titleFont":"Liberation Sans","titleFontWeight":"bold","titleFontSize":26},
"legend":{"labelFont":"Liberation Sans","labelFontWeight":"bold","labelFontSize":20,"labelColor":"black","padding":0,"symbolStrokeWidth":1}
}
}
